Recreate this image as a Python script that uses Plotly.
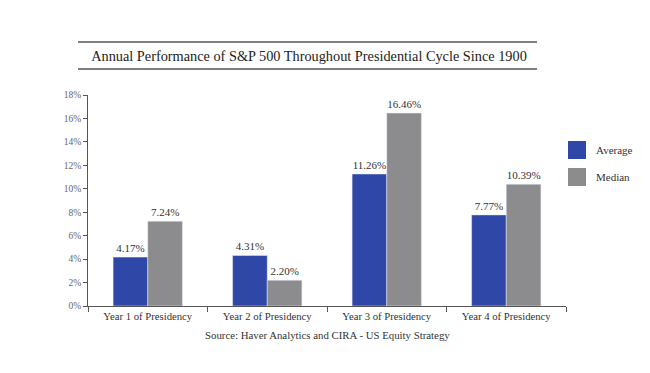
import plotly.graph_objects as go

categories = ["Year 1 of Presidency", "Year 2 of Presidency", "Year 3 of Presidency", "Year 4 of Presidency"]
average = [4.17, 4.31, 11.26, 7.77]
median = [7.24, 2.20, 16.46, 10.39]
y_ticks = [0, 2, 4, 6, 8, 10, 12, 14, 16, 18]
series_names = ["Average", "Median"]
series_colors = ["#2F47A7", "#8C8C8E"]

FONT = "Liberation Serif, Times New Roman, serif"
TXT = "#333333"

# page is rendered with an 8px body offset; plot area in page coords: x 88..566, y 95..306
OFF = 8
PL, PR, PT, PB = 88, 566, 95, 306
W, H = 650, 373


def px2x(X):
    return (X - PL) / (PR - PL)


def px2y(Y):
    return (PB - Y) / (PB - PT)


fig = go.Figure()
for name, vals, col in zip(series_names, [average, median], series_colors):
    fig.add_trace(go.Bar(x=categories, y=vals, name=name, marker_color=col,
                         text=[f"{v:.2f}%" for v in vals], textposition="outside",
                         textfont=dict(family=FONT, size=11, color=TXT), cliponaxis=False,
                         showlegend=False))

fig.update_layout(
    width=W, height=H,
    margin=dict(l=PL - OFF, r=W - (PR - OFF), t=PT - OFF, b=H - (PB - OFF), autoexpand=False),
    paper_bgcolor="white", plot_bgcolor="white",
    font=dict(family=FONT, size=10, color=TXT),
    barmode="group", bargap=0.42, bargroupgap=0,
    title=dict(text="Annual Performance of S&P 500 Throughout Presidential Cycle Since 1900",
               x=(309 - OFF) / W, xanchor="center", y=1 - (56 - OFF) / H, yanchor="middle",
               font=dict(family=FONT, size=14.3, color="#222222")),
    xaxis=dict(type="category", tickson="boundaries", ticks="outside", ticklen=5,
               tickcolor="#555", showline=True, linecolor="#555", linewidth=1,
               showgrid=False, tickfont=dict(family=FONT, size=10.7, color=TXT)),
    yaxis=dict(range=[0, 18], tickvals=y_ticks, ticktext=[f"{v}%" for v in y_ticks],
               ticks="outside", ticklen=4, tickcolor="#555", showline=True,
               linecolor="#555", linewidth=1, showgrid=False, zeroline=False,
               tickfont=dict(family=FONT, size=9.5, color="#666")),
)

# title rules
for yp in [42, 69]:
    fig.add_shape(type="line", xref="paper", yref="paper",
                  x0=px2x(78), x1=px2x(537), y0=px2y(yp), y1=px2y(yp),
                  line=dict(color="#555555", width=1.5))

# legend (manual, larger swatches)
for i, (name, col) in enumerate(zip(series_names, series_colors)):
    cy = 150 + 27 * i
    fig.add_shape(type="rect", xref="paper", yref="paper",
                  x0=px2x(568), x1=px2x(586), y0=px2y(cy - 9), y1=px2y(cy + 9),
                  fillcolor=col, line=dict(width=0))
    fig.add_annotation(text=name, xref="paper", yref="paper", x=px2x(594), y=px2y(cy),
                       showarrow=False, xanchor="left", yanchor="middle",
                       font=dict(family=FONT, size=11, color=TXT))

fig.add_annotation(text="Source: Haver Analytics and CIRA - US Equity Strategy",
                   xref="paper", yref="paper", x=px2x(327), y=px2y(335),
                   showarrow=False, xanchor="center", yanchor="middle",
                   font=dict(family=FONT, size=10.8, color=TXT))

fig.write_html("out.html")
